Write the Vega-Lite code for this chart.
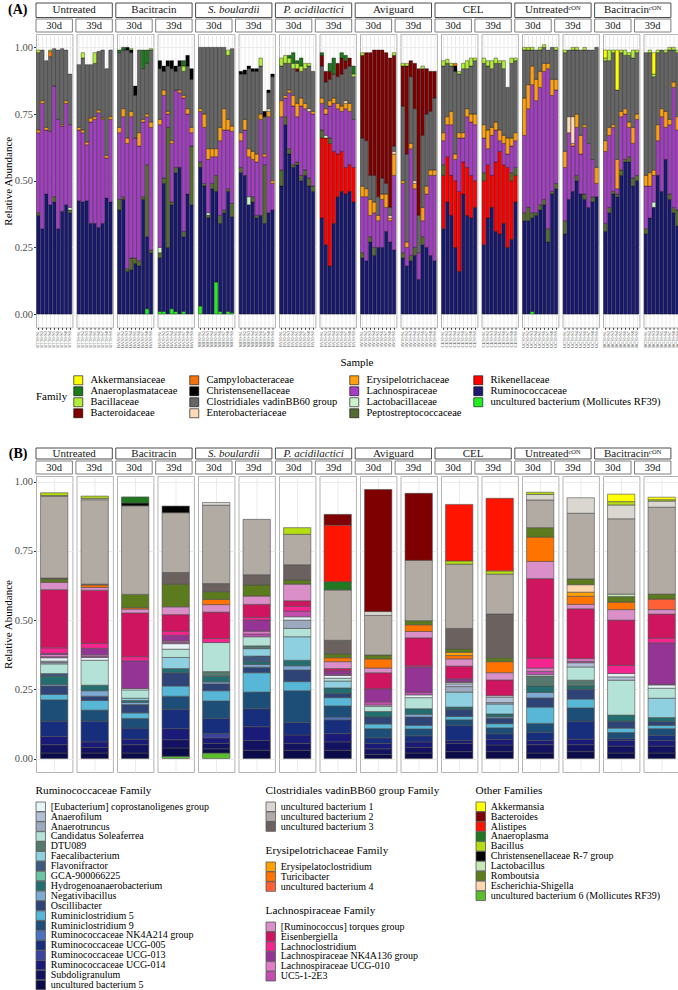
{
"$schema": "https://vega.github.io/schema/vega-lite/v6.json",
"padding": {"left": 2, "top": 2, "right": 2, "bottom": 2},
"background": "white",
"config": {
  "font": "Liberation Serif",
  "view": {"stroke": null},
  "axis": {"labelFont": "Liberation Serif", "titleFont": "Liberation Serif", "titleFontWeight": "normal"},
  "legend": {"labelFont": "Liberation Serif", "titleFont": "Liberation Serif"},
  "text": {"font": "Liberation Serif"},
  "title": {"font": "Liberation Serif"},
  "header": {"labelFont": "Liberation Serif", "titleFont": "Liberation Serif"}
},
"datasets": {
  "fam": [
    {"k":"f01","Family":"uncultured bacterium (Mollicutes RF39)"},{"k":"f02","Family":"Ruminococcaceae"},{"k":"f03","Family":"Rikenellaceae"},{"k":"f04","Family":"Peptostreptococcaceae"},{"k":"f05","Family":"Lactobacillaceae"},{"k":"f06","Family":"Lachnospiraceae"},{"k":"f07","Family":"Erysipelotrichaceae"},{"k":"f08","Family":"Enterobacteriaceae"},{"k":"f09","Family":"Clostridiales vadinBB60 group"},{"k":"f10","Family":"Christensenellaceae"},{"k":"f11","Family":"Campylobacteraceae"},{"k":"f12","Family":"Bacteroidaceae"},{"k":"f13","Family":"Bacillaceae"},{"k":"f14","Family":"Anaeroplasmataceae"},{"k":"f15","Family":"Akkermansiaceae"}
  ],
  "trts": [{"t":"Untreated"},{"t":"Bacitracin"},{"t":"S. boulardii"},{"t":"P. acidilactici"},{"t":"Aviguard"},{"t":"CEL"},{"t":"Untreatedᶜᴼᴺ"},{"t":"Bacitracinᶜᴼᴺ"}],
  "days": [
    {"g":"UT30","d":"30d"},{"g":"UT39","d":"39d"},{"g":"BA30","d":"30d"},{"g":"BA39","d":"39d"},{"g":"SB30","d":"30d"},{"g":"SB39","d":"39d"},{"g":"PA30","d":"30d"},{"g":"PA39","d":"39d"},
    {"g":"AV30","d":"30d"},{"g":"AV39","d":"39d"},{"g":"CE30","d":"30d"},{"g":"CE39","d":"39d"},{"g":"UC30","d":"30d"},{"g":"UC39","d":"39d"},{"g":"BC30","d":"30d"},{"g":"BC39","d":"39d"}
  ],
  "gen": [
    {"k":"a20","genus":"[Eubacterium] coprostanoligenes group","grp":"Ruminococcaceae Family"},
    {"k":"a19","genus":"Anaerofilum","grp":"Ruminococcaceae Family"},
    {"k":"a18","genus":"Anaerotruncus","grp":"Ruminococcaceae Family"},
    {"k":"a17","genus":"Candidatus Soleaferrea","grp":"Ruminococcaceae Family"},
    {"k":"a16","genus":"DTU089","grp":"Ruminococcaceae Family"},
    {"k":"a15","genus":"Faecalibacterium","grp":"Ruminococcaceae Family"},
    {"k":"a14","genus":"Flavonifractor","grp":"Ruminococcaceae Family"},
    {"k":"a13","genus":"GCA-900066225","grp":"Ruminococcaceae Family"},
    {"k":"a12","genus":"Hydrogenoanaerobacterium","grp":"Ruminococcaceae Family"},
    {"k":"a11","genus":"Negativibacillus","grp":"Ruminococcaceae Family"},
    {"k":"a10","genus":"Oscillibacter","grp":"Ruminococcaceae Family"},
    {"k":"a09","genus":"Ruminiclostridium 5","grp":"Ruminococcaceae Family"},
    {"k":"a08","genus":"Ruminiclostridium 9","grp":"Ruminococcaceae Family"},
    {"k":"a07","genus":"Ruminococcaceae NK4A214 group","grp":"Ruminococcaceae Family"},
    {"k":"a06","genus":"Ruminococcaceae UCG-005","grp":"Ruminococcaceae Family"},
    {"k":"a05","genus":"Ruminococcaceae UCG-013","grp":"Ruminococcaceae Family"},
    {"k":"a04","genus":"Ruminococcaceae UCG-014","grp":"Ruminococcaceae Family"},
    {"k":"a03","genus":"Subdoligranulum","grp":"Ruminococcaceae Family"},
    {"k":"a02","genus":"uncultured bacterium 5","grp":"Ruminococcaceae Family"},
    {"k":"a35","genus":"uncultured bacterium 1","grp":"Clostridiales vadinBB60 group Family"},
    {"k":"a34","genus":"uncultured bacterium 2","grp":"Clostridiales vadinBB60 group Family"},
    {"k":"a33","genus":"uncultured bacterium 3","grp":"Clostridiales vadinBB60 group Family"},
    {"k":"a29","genus":"Erysipelatoclostridium","grp":"Erysipelotrichaceae Family"},
    {"k":"a28","genus":"Turicibacter","grp":"Erysipelotrichaceae Family"},
    {"k":"a27","genus":"uncultured bacterium 4","grp":"Erysipelotrichaceae Family"},
    {"k":"a26","genus":"[Ruminococcus] torques group","grp":"Lachnospiraceae Family"},
    {"k":"a25","genus":"Eisenbergiella","grp":"Lachnospiraceae Family"},
    {"k":"a24","genus":"Lachnoclostridium","grp":"Lachnospiraceae Family"},
    {"k":"a23","genus":"Lachnospiraceae NK4A136 group","grp":"Lachnospiraceae Family"},
    {"k":"a22","genus":"Lachnospiraceae UCG-010","grp":"Lachnospiraceae Family"},
    {"k":"a21","genus":"UC5-1-2E3","grp":"Lachnospiraceae Family"},
    {"k":"a41","genus":"Akkermansia","grp":"Other Families"},
    {"k":"a40","genus":"Bacteroides","grp":"Other Families"},
    {"k":"a39","genus":"Alistipes","grp":"Other Families"},
    {"k":"a38","genus":"Anaeroplasma","grp":"Other Families"},
    {"k":"a37","genus":"Bacillus","grp":"Other Families"},
    {"k":"a36","genus":"Christensenellaceae R-7 group","grp":"Other Families"},
    {"k":"a32","genus":"Lactobacillus","grp":"Other Families"},
    {"k":"a31","genus":"Romboutsia","grp":"Other Families"},
    {"k":"a30","genus":"Escherichia-Shigella","grp":"Other Families"},
    {"k":"a01","genus":"uncultured bacterium 6 (Mollicutes RF39)","grp":"Other Families"}
  ],
  "B": [
    {"g":"UT30","a02":0.02,"a03":0.03,"a04":0.03,"a06":0.055,"a08":0.077,"a09":0.02,"a10":0.03,"a11":0.005,"a12":0.03,"a14":0.01,"a17":0.035,"a18":0.005,"a19":0.005,"a20":0.012,"a21":0.004,"a22":0.008,"a23":0.004,"a24":0.02,"a25":0.21,"a26":0.026,"a29":0.003,"a31":0.01,"a33":0.003,"a34":0.295,"a35":0.003,"a37":0.01},
    {"g":"UT39","a02":0.02,"a03":0.02,"a04":0.02,"a06":0.075,"a08":0.04,"a09":0.035,"a10":0.015,"a11":0.02,"a12":0.02,"a17":0.09,"a20":0.01,"a21":0.005,"a22":0.005,"a23":0.023,"a24":0.018,"a25":0.192,"a26":0.01,"a28":0.009,"a33":0.003,"a34":0.305,"a35":0.005,"a37":0.008},
    {"g":"BA30","a02":0.02,"a03":0.03,"a04":0.02,"a06":0.04,"a08":0.035,"a09":0.02,"a10":0.03,"a11":0.008,"a12":0.007,"a15":0.008,"a17":0.03,"a20":0.005,"a23":0.1,"a24":0.015,"a25":0.158,"a26":0.014,"a28":0.005,"a31":0.048,"a34":0.32,"a36":0.01,"a38":0.022},
    {"g":"BA39","a01":0.008,"a02":0.03,"a03":0.03,"a04":0.04,"a06":0.07,"a08":0.047,"a09":0.037,"a10":0.048,"a12":0.015,"a15":0.04,"a17":0.03,"a20":0.02,"a21":0.005,"a22":0.005,"a23":0.02,"a24":0.015,"a25":0.06,"a26":0.028,"a31":0.082,"a33":0.042,"a34":0.216,"a36":0.024},
    {"g":"SB30","a01":0.02,"a02":0.015,"a03":0.02,"a04":0.02,"a05":0.015,"a06":0.055,"a08":0.063,"a09":0.037,"a10":0.025,"a11":0.007,"a12":0.02,"a16":0.017,"a17":0.105,"a24":0.015,"a25":0.095,"a26":0.027,"a28":0.019,"a31":0.028,"a33":0.029,"a34":0.283,"a35":0.01},
    {"g":"SB39","a02":0.03,"a03":0.035,"a04":0.05,"a06":0.065,"a08":0.06,"a09":0.07,"a10":0.02,"a11":0.01,"a12":0.01,"a14":0.02,"a15":0.027,"a16":0.01,"a17":0.033,"a21":0.01,"a22":0.01,"a23":0.04,"a24":0.01,"a25":0.047,"a26":0.03,"a31":0.04,"a33":0.037,"a34":0.2},
    {"g":"PA30","a02":0.03,"a03":0.025,"a04":0.03,"a06":0.045,"a08":0.115,"a09":0.033,"a10":0.042,"a11":0.015,"a12":0.02,"a15":0.085,"a17":0.03,"a18":0.03,"a20":0.012,"a21":0.02,"a24":0.018,"a25":0.02,"a26":0.06,"a31":0.015,"a33":0.055,"a34":0.11,"a37":0.024},
    {"g":"PA39","a02":0.03,"a03":0.03,"a04":0.03,"a06":0.05,"a07":0.01,"a08":0.04,"a09":0.03,"a10":0.015,"a12":0.02,"a15":0.025,"a17":0.01,"a20":0.01,"a21":0.005,"a23":0.012,"a25":0.008,"a26":0.025,"a28":0.014,"a31":0.014,"a33":0.049,"a34":0.182,"a38":0.03,"a39":0.204,"a40":0.039},
    {"g":"AV30","a02":0.015,"a03":0.02,"a04":0.02,"a06":0.02,"a08":0.033,"a09":0.017,"a10":0.025,"a12":0.02,"a17":0.018,"a20":0.005,"a21":0.012,"a23":0.047,"a25":0.058,"a26":0.017,"a28":0.033,"a31":0.014,"a34":0.143,"a35":0.014,"a40":0.441},
    {"g":"AV39","a02":0.02,"a03":0.02,"a04":0.02,"a06":0.022,"a08":0.025,"a09":0.013,"a10":0.03,"a11":0.01,"a12":0.02,"a17":0.04,"a20":0.01,"a21":0.01,"a23":0.09,"a24":0.005,"a25":0.101,"a26":0.023,"a28":0.024,"a31":0.015,"a34":0.218,"a40":0.242},
    {"g":"CE30","a02":0.025,"a03":0.03,"a04":0.01,"a06":0.055,"a08":0.02,"a09":0.012,"a10":0.026,"a12":0.008,"a15":0.054,"a18":0.02,"a19":0.01,"a20":0.005,"a21":0.003,"a23":0.01,"a25":0.046,"a26":0.026,"a28":0.012,"a29":0.012,"a31":0.012,"a33":0.074,"a34":0.232,"a37":0.012,"a39":0.204},
    {"g":"CE39","a02":0.025,"a03":0.024,"a04":0.02,"a06":0.02,"a08":0.022,"a09":0.015,"a10":0.02,"a11":0.005,"a12":0.01,"a15":0.036,"a18":0.005,"a19":0.02,"a20":0.005,"a25":0.057,"a26":0.026,"a28":0.04,"a31":0.014,"a33":0.158,"a34":0.144,"a37":0.012,"a39":0.262},
    {"g":"UC30","a02":0.02,"a03":0.03,"a04":0.015,"a06":0.03,"a08":0.032,"a09":0.059,"a10":0.033,"a11":0.02,"a12":0.023,"a16":0.036,"a20":0.005,"a21":0.012,"a22":0.012,"a24":0.036,"a25":0.287,"a26":0.062,"a28":0.088,"a31":0.034,"a34":0.1,"a35":0.02,"a37":0.008},
    {"g":"UC39","a02":0.025,"a03":0.025,"a04":0.02,"a06":0.065,"a08":0.048,"a09":0.032,"a10":0.035,"a12":0.012,"a16":0.021,"a17":0.048,"a19":0.015,"a21":0.005,"a22":0.01,"a25":0.18,"a26":0.016,"a28":0.029,"a29":0.015,"a30":0.027,"a31":0.021,"a34":0.237,"a35":0.056},
    {"g":"BC30","a02":0.02,"a03":0.025,"a04":0.02,"a06":0.007,"a08":0.022,"a09":0.016,"a10":0.025,"a12":0.022,"a17":0.126,"a19":0.012,"a20":0.012,"a24":0.03,"a25":0.163,"a26":0.038,"a28":0.027,"a31":0.02,"a32":0.009,"a34":0.272,"a35":0.05,"a37":0.012,"a41":0.027},
    {"g":"BC39","a02":0.02,"a03":0.025,"a04":0.02,"a06":0.019,"a08":0.024,"a09":0.012,"a10":0.014,"a12":0.014,"a15":0.07,"a17":0.036,"a20":0.012,"a21":0.002,"a23":0.15,"a24":0.017,"a25":0.087,"a26":0.016,"a27":0.038,"a31":0.018,"a34":0.314,"a35":0.022,"a37":0.005,"a41":0.009}
  ],
  "A": [
    {"g":"UT30","s":"UT30-S1","f02":0.37,"f04":0.01,"f06":0.3,"f07":0.01,"f09":0.29,"f13":0.01},
    {"g":"UT30","s":"UT30-S2","f02":0.32,"f06":0.47,"f07":0.01,"f09":0.19},
    {"g":"UT30","s":"UT30-S3","f02":0.45,"f06":0.24,"f07":0.01,"f09":0.25},
    {"g":"UT30","s":"UT30-S4","f02":0.41,"f06":0.275,"f09":0.28,"f11":0.02,"f13":0.005},
    {"g":"UT30","s":"UT30-S5","f02":0.42,"f04":0.02,"f06":0.415,"f09":0.14},
    {"g":"UT30","s":"UT30-S6","f02":0.32,"f06":0.41,"f09":0.26},
    {"g":"UT30","s":"UT30-S7","f02":0.385,"f06":0.32,"f07":0.005,"f09":0.285},
    {"g":"UT30","s":"UT30-S8","f02":0.41,"f06":0.38,"f07":0.01,"f09":0.19},
    {"g":"UT30","s":"UT30-S9","f02":0.38,"f04":0.01,"f05":0.01,"f06":0.31,"f09":0.19},
    {"g":"UT39","s":"UT39-S1","f02":0.425,"f06":0.265,"f07":0.01,"f09":0.235},
    {"g":"UT39","s":"UT39-S2","f02":0.42,"f06":0.26,"f07":0.01,"f09":0.27,"f13":0.02},
    {"g":"UT39","s":"UT39-S3","f02":0.425,"f06":0.21,"f07":0.01,"f09":0.29},
    {"g":"UT39","s":"UT39-S4","f02":0.34,"f06":0.38,"f07":0.015,"f09":0.2},
    {"g":"UT39","s":"UT39-S5","f02":0.34,"f06":0.39,"f07":0.01,"f09":0.2,"f13":0.04},
    {"g":"UT39","s":"UT39-S6","f02":0.325,"f06":0.43,"f07":0.01,"f09":0.22},
    {"g":"UT39","s":"UT39-S7","f02":0.34,"f06":0.39,"f07":0.005,"f09":0.255},
    {"g":"UT39","s":"UT39-S8","f02":0.435,"f06":0.15,"f07":0.01,"f09":0.325},
    {"g":"UT39","s":"UT39-S9","f02":0.42,"f06":0.31,"f07":0.01,"f09":0.25},
    {"g":"BA30","s":"BA30-S1","f02":0.39,"f04":0.04,"f06":0.25,"f07":0.02,"f09":0.28,"f14":0.01},
    {"g":"BA30","s":"BA30-S2","f02":0.43,"f04":0.01,"f06":0.3,"f07":0.03,"f09":0.22,"f14":0.01},
    {"g":"BA30","s":"BA30-S3","f02":0.16,"f04":0.01,"f06":0.47,"f07":0.02,"f09":0.33,"f10":0.01},
    {"g":"BA30","s":"BA30-S4","f02":0.165,"f04":0.045,"f06":0.53,"f07":0.02,"f09":0.22,"f10":0.01,"f13":0.005},
    {"g":"BA30","s":"BA30-S5","f02":0.19,"f04":0.02,"f06":0.45,"f09":0.16,"f10":0.035},
    {"g":"BA30","s":"BA30-S6","f02":0.18,"f04":0.02,"f06":0.43,"f07":0.05,"f09":0.31},
    {"g":"BA30","s":"BA30-S7","f02":0.43,"f04":0.01,"f06":0.28,"f07":0.01,"f09":0.19,"f14":0.07},
    {"g":"BA30","s":"BA30-S8","f01":0.02,"f02":0.27,"f04":0.27,"f06":0.18,"f07":0.01,"f09":0.19,"f14":0.05},
    {"g":"BA30","s":"BA30-S9","f02":0.23,"f04":0.01,"f06":0.46,"f07":0.02,"f09":0.27,"f13":0.005},
    {"g":"BA39","s":"BA39-S1","f01":0.01,"f02":0.2,"f04":0.02,"f05":0.02,"f06":0.46,"f07":0.02,"f09":0.19,"f10":0.03},
    {"g":"BA39","s":"BA39-S2","f01":0.01,"f02":0.48,"f04":0.02,"f06":0.31,"f07":0.02,"f09":0.07,"f10":0.02},
    {"g":"BA39","s":"BA39-S3","f02":0.25,"f04":0.45,"f06":0.05,"f07":0.01,"f09":0.17,"f10":0.02},
    {"g":"BA39","s":"BA39-S4","f01":0.02,"f02":0.39,"f04":0.01,"f06":0.22,"f07":0.01,"f09":0.27,"f10":0.03},
    {"g":"BA39","s":"BA39-S5","f01":0.01,"f02":0.52,"f04":0.02,"f06":0.29,"f09":0.07,"f10":0.02},
    {"g":"BA39","s":"BA39-S6","f02":0.55,"f06":0.28,"f07":0.01,"f09":0.09,"f10":0.02},
    {"g":"BA39","s":"BA39-S7","f01":0.01,"f02":0.28,"f04":0.02,"f06":0.5,"f07":0.01,"f09":0.09,"f13":0.02,"f14":0.02},
    {"g":"BA39","s":"BA39-S8","f02":0.45,"f06":0.3,"f07":0.02,"f09":0.16,"f10":0.04},
    {"g":"BA39","s":"BA39-S9","f02":0.41,"f04":0.22,"f06":0.05,"f07":0.02,"f09":0.18,"f10":0.04},
    {"g":"SB30","s":"SB30-S1","f01":0.03,"f02":0.52,"f04":0.02,"f06":0.19,"f07":0.01,"f09":0.23},
    {"g":"SB30","s":"SB30-S2","f02":0.48,"f04":0.01,"f06":0.21,"f07":0.05,"f09":0.25},
    {"g":"SB30","s":"SB30-S3","f02":0.36,"f04":0.01,"f05":0.01,"f06":0.2,"f07":0.04,"f09":0.38},
    {"g":"SB30","s":"SB30-S4","f02":0.47,"f04":0.02,"f06":0.1,"f07":0.03,"f09":0.38},
    {"g":"SB30","s":"SB30-S5","f01":0.12,"f02":0.34,"f04":0.06,"f06":0.07,"f07":0.03,"f09":0.38},
    {"g":"SB30","s":"SB30-S6","f01":0.01,"f02":0.33,"f04":0.03,"f06":0.28,"f07":0.05,"f09":0.3},
    {"g":"SB30","s":"SB30-S7","f02":0.38,"f04":0.01,"f06":0.3,"f07":0.08,"f09":0.23},
    {"g":"SB30","s":"SB30-S8","f01":0.01,"f02":0.45,"f04":0.01,"f06":0.22,"f07":0.04,"f09":0.24,"f13":0.02},
    {"g":"SB30","s":"SB30-S9","f01":0.005,"f02":0.36,"f04":0.05,"f06":0.27,"f07":0.02,"f09":0.29},
    {"g":"SB39","s":"SB39-S1","f02":0.53,"f04":0.02,"f06":0.1,"f07":0.03,"f09":0.22,"f10":0.01},
    {"g":"SB39","s":"SB39-S2","f02":0.52,"f06":0.17,"f07":0.04,"f09":0.17,"f10":0.015},
    {"g":"SB39","s":"SB39-S3","f02":0.41,"f05":0.03,"f06":0.15,"f07":0.03,"f09":0.3,"f10":0.01},
    {"g":"SB39","s":"SB39-S4","f02":0.42,"f04":0.02,"f06":0.14,"f07":0.03,"f09":0.3,"f10":0.01},
    {"g":"SB39","s":"SB39-S5","f02":0.36,"f04":0.01,"f06":0.2,"f07":0.03,"f09":0.31,"f10":0.01},
    {"g":"SB39","s":"SB39-S6","f02":0.37,"f06":0.36,"f07":0.02,"f09":0.18,"f13":0.03},
    {"g":"SB39","s":"SB39-S7","f02":0.34,"f04":0.22,"f06":0.03,"f07":0.01,"f09":0.14,"f10":0.02},
    {"g":"SB39","s":"SB39-S8","f02":0.38,"f06":0.36,"f07":0.02,"f08":0.01,"f09":0.06,"f10":0.01},
    {"g":"SB39","s":"SB39-S9","f02":0.39,"f06":0.1,"f07":0.01,"f09":0.39,"f10":0.01},
    {"g":"PA30","s":"PA30-S1","f02":0.48,"f04":0.06,"f06":0.2,"f07":0.06,"f09":0.13,"f13":0.03},
    {"g":"PA30","s":"PA30-S2","f02":0.71,"f04":0.03,"f06":0.07,"f07":0.01,"f09":0.12,"f13":0.03},
    {"g":"PA30","s":"PA30-S3","f02":0.6,"f04":0.02,"f06":0.21,"f07":0.01,"f09":0.1,"f13":0.02,"f14":0.01},
    {"g":"PA30","s":"PA30-S4","f02":0.55,"f04":0.01,"f06":0.22,"f07":0.04,"f09":0.1,"f13":0.02,"f14":0.04},
    {"g":"PA30","s":"PA30-S5","f02":0.56,"f04":0.01,"f06":0.17,"f07":0.05,"f09":0.12,"f12":0.01,"f13":0.02,"f14":0.01},
    {"g":"PA30","s":"PA30-S6","f02":0.5,"f04":0.02,"f06":0.26,"f07":0.03,"f09":0.1,"f13":0.02,"f14":0.03},
    {"g":"PA30","s":"PA30-S7","f02":0.52,"f04":0.02,"f06":0.23,"f07":0.02,"f09":0.13,"f13":0.02},
    {"g":"PA30","s":"PA30-S8","f02":0.48,"f04":0.03,"f06":0.25,"f08":0.01,"f09":0.16,"f13":0.01},
    {"g":"PA30","s":"PA30-S9","f02":0.46,"f04":0.02,"f06":0.27,"f07":0.01,"f09":0.15},
    {"g":"PA39","s":"PA39-S1","f02":0.36,"f03":0.3,"f04":0.03,"f06":0.1,"f07":0.02,"f09":0.12,"f12":0.04,"f14":0.01},
    {"g":"PA39","s":"PA39-S2","f02":0.26,"f03":0.4,"f05":0.01,"f06":0.08,"f07":0.02,"f09":0.1,"f12":0.04},
    {"g":"PA39","s":"PA39-S3","f02":0.18,"f03":0.46,"f04":0.02,"f06":0.12,"f07":0.02,"f09":0.08,"f12":0.03,"f14":0.03},
    {"g":"PA39","s":"PA39-S4","f02":0.34,"f03":0.27,"f06":0.18,"f07":0.02,"f09":0.09,"f14":0.06},
    {"g":"PA39","s":"PA39-S5","f02":0.44,"f03":0.16,"f06":0.17,"f07":0.02,"f09":0.1,"f12":0.05},
    {"g":"PA39","s":"PA39-S6","f02":0.46,"f03":0.15,"f06":0.15,"f07":0.02,"f09":0.12,"f12":0.06,"f14":0.02},
    {"g":"PA39","s":"PA39-S7","f02":0.45,"f03":0.1,"f06":0.22,"f07":0.02,"f08":0.01,"f09":0.12,"f12":0.03,"f14":0.02},
    {"g":"PA39","s":"PA39-S8","f02":0.46,"f03":0.1,"f06":0.2,"f07":0.03,"f09":0.14,"f12":0.03},
    {"g":"PA39","s":"PA39-S9","f02":0.42,"f03":0.13,"f06":0.18,"f09":0.16,"f13":0.01,"f14":0.03},
    {"g":"AV30","s":"AV30-S1","f02":0.21,"f04":0.02,"f06":0.21,"f07":0.04,"f09":0.18,"f12":0.31,"f13":0.01},
    {"g":"AV30","s":"AV30-S2","f02":0.2,"f06":0.24,"f07":0.03,"f09":0.18,"f12":0.33},
    {"g":"AV30","s":"AV30-S3","f02":0.27,"f04":0.02,"f06":0.08,"f07":0.06,"f09":0.09,"f12":0.46},
    {"g":"AV30","s":"AV30-S4","f02":0.22,"f04":0.03,"f06":0.13,"f07":0.04,"f09":0.1,"f12":0.47},
    {"g":"AV30","s":"AV30-S5","f02":0.25,"f06":0.1,"f07":0.02,"f09":0.07,"f12":0.55},
    {"g":"AV30","s":"AV30-S6","f02":0.25,"f06":0.18,"f07":0.02,"f09":0.06,"f12":0.48},
    {"g":"AV30","s":"AV30-S7","f02":0.31,"f06":0.09,"f07":0.05,"f09":0.04,"f12":0.49},
    {"g":"AV30","s":"AV30-S8","f02":0.27,"f06":0.08,"f07":0.01,"f08":0.01,"f09":0.03,"f12":0.56},
    {"g":"AV30","s":"AV30-S9","f02":0.24,"f06":0.28,"f07":0.08,"f08":0.01,"f09":0.02,"f12":0.34,"f13":0.01},
    {"g":"AV39","s":"AV39-S1","f02":0.21,"f04":0.02,"f06":0.26,"f07":0.01,"f09":0.28,"f12":0.15,"f13":0.01},
    {"g":"AV39","s":"AV39-S2","f02":0.18,"f06":0.07,"f07":0.02,"f09":0.33,"f12":0.33,"f13":0.01},
    {"g":"AV39","s":"AV39-S3","f02":0.2,"f04":0.02,"f06":0.4,"f07":0.02,"f09":0.25,"f12":0.06},
    {"g":"AV39","s":"AV39-S4","f02":0.22,"f04":0.03,"f06":0.22,"f07":0.02,"f08":0.01,"f09":0.27,"f12":0.17},
    {"g":"AV39","s":"AV39-S5","f02":0.13,"f06":0.1,"f09":0.14,"f12":0.55},
    {"g":"AV39","s":"AV39-S6","f02":0.26,"f04":0.03,"f06":0.06,"f07":0.05,"f09":0.27,"f12":0.25,"f13":0.01},
    {"g":"AV39","s":"AV39-S7","f02":0.25,"f06":0.2,"f07":0.03,"f09":0.27,"f12":0.17},
    {"g":"AV39","s":"AV39-S8","f02":0.22,"f06":0.3,"f07":0.02,"f09":0.22,"f12":0.15},
    {"g":"AV39","s":"AV39-S9","f02":0.2,"f06":0.32,"f07":0.02,"f09":0.27,"f12":0.1},
    {"g":"CE30","s":"CE30-S1","f02":0.32,"f03":0.2,"f04":0.04,"f06":0.09,"f07":0.03,"f09":0.25,"f13":0.02},
    {"g":"CE30","s":"CE30-S2","f02":0.42,"f03":0.17,"f06":0.12,"f07":0.03,"f09":0.2,"f13":0.015},
    {"g":"CE30","s":"CE30-S3","f02":0.37,"f03":0.15,"f06":0.19,"f07":0.05,"f09":0.17,"f13":0.01},
    {"g":"CE30","s":"CE30-S4","f02":0.25,"f03":0.25,"f06":0.08,"f07":0.02,"f09":0.31,"f10":0.02,"f11":0.01},
    {"g":"CE30","s":"CE30-S5","f02":0.16,"f03":0.3,"f06":0.2,"f07":0.02,"f09":0.22,"f13":0.01},
    {"g":"CE30","s":"CE30-S6","f02":0.45,"f03":0.12,"f06":0.09,"f07":0.02,"f09":0.24,"f13":0.02},
    {"g":"CE30","s":"CE30-S7","f02":0.37,"f03":0.18,"f06":0.19,"f07":0.03,"f09":0.15,"f13":0.03},
    {"g":"CE30","s":"CE30-S8","f02":0.36,"f03":0.16,"f06":0.2,"f07":0.03,"f09":0.18,"f13":0.03},
    {"g":"CE30","s":"CE30-S9","f02":0.4,"f03":0.1,"f06":0.21,"f07":0.04,"f09":0.2,"f13":0.01},
    {"g":"CE39","s":"CE39-S1","f02":0.26,"f03":0.24,"f04":0.03,"f06":0.13,"f07":0.05,"f09":0.23,"f13":0.02},
    {"g":"CE39","s":"CE39-S2","f02":0.36,"f03":0.2,"f06":0.06,"f07":0.07,"f09":0.24,"f13":0.02},
    {"g":"CE39","s":"CE39-S3","f02":0.4,"f03":0.12,"f06":0.15,"f07":0.03,"f09":0.22,"f13":0.03},
    {"g":"CE39","s":"CE39-S4","f02":0.31,"f03":0.26,"f06":0.12,"f07":0.03,"f09":0.22,"f13":0.02},
    {"g":"CE39","s":"CE39-S5","f02":0.3,"f03":0.31,"f06":0.04,"f07":0.04,"f09":0.25,"f13":0.01},
    {"g":"CE39","s":"CE39-S6","f02":0.34,"f03":0.22,"f06":0.08,"f07":0.03,"f09":0.25,"f13":0.03},
    {"g":"CE39","s":"CE39-S7","f02":0.25,"f03":0.3,"f06":0.05,"f07":0.06,"f09":0.19},
    {"g":"CE39","s":"CE39-S8","f02":0.28,"f03":0.22,"f04":0.03,"f06":0.1,"f07":0.03,"f09":0.28,"f13":0.02},
    {"g":"CE39","s":"CE39-S9","f02":0.42,"f03":0.1,"f04":0.03,"f06":0.1,"f07":0.03,"f09":0.27,"f13":0.01},
    {"g":"UC30","s":"UC30-S1","f02":0.35,"f04":0.03,"f06":0.29,"f07":0.14,"f09":0.18,"f13":0.01},
    {"g":"UC30","s":"UC30-S2","f02":0.35,"f04":0.05,"f06":0.37,"f07":0.09,"f09":0.13,"f13":0.01},
    {"g":"UC30","s":"UC30-S3","f01":0.01,"f02":0.35,"f04":0.02,"f06":0.48,"f07":0.07,"f09":0.06,"f13":0.01},
    {"g":"UC30","s":"UC30-S4","f02":0.37,"f04":0.01,"f06":0.42,"f07":0.08,"f09":0.11},
    {"g":"UC30","s":"UC30-S5","f02":0.39,"f04":0.02,"f06":0.44,"f07":0.06,"f09":0.08,"f13":0.01},
    {"g":"UC30","s":"UC30-S6","f02":0.41,"f04":0.02,"f06":0.48,"f07":0.03,"f09":0.06,"f13":0.01},
    {"g":"UC30","s":"UC30-S7","f02":0.27,"f04":0.05,"f06":0.6,"f07":0.02,"f09":0.05},
    {"g":"UC30","s":"UC30-S8","f02":0.45,"f04":0.01,"f06":0.36,"f07":0.06,"f09":0.12},
    {"g":"UC30","s":"UC30-S9","f02":0.47,"f04":0.02,"f06":0.35,"f07":0.04,"f09":0.11,"f13":0.01},
    {"g":"UC39","s":"UC39-S1","f02":0.3,"f04":0.05,"f06":0.2,"f07":0.06,"f09":0.37,"f13":0.01},
    {"g":"UC39","s":"UC39-S2","f02":0.43,"f06":0.25,"f08":0.06,"f09":0.25},
    {"g":"UC39","s":"UC39-S3","f02":0.46,"f06":0.17,"f07":0.01,"f08":0.1,"f09":0.25,"f13":0.01},
    {"g":"UC39","s":"UC39-S4","f02":0.5,"f04":0.02,"f06":0.18,"f07":0.05,"f09":0.24,"f13":0.01},
    {"g":"UC39","s":"UC39-S5","f02":0.45,"f06":0.15,"f07":0.07,"f09":0.32},
    {"g":"UC39","s":"UC39-S6","f02":0.43,"f04":0.02,"f06":0.25,"f07":0.01,"f09":0.28,"f13":0.01},
    {"g":"UC39","s":"UC39-S7","f02":0.4,"f06":0.24,"f09":0.35},
    {"g":"UC39","s":"UC39-S8","f02":0.42,"f04":0.02,"f06":0.14,"f09":0.41},
    {"g":"UC39","s":"UC39-S9","f02":0.44,"f06":0.05,"f07":0.06,"f09":0.45},
    {"g":"BC30","s":"BC30-S1","f02":0.31,"f04":0.03,"f06":0.27,"f07":0.04,"f09":0.3,"f13":0.01,"f15":0.03},
    {"g":"BC30","s":"BC30-S2","f02":0.38,"f04":0.02,"f06":0.27,"f07":0.03,"f09":0.25,"f13":0.04},
    {"g":"BC30","s":"BC30-S3","f02":0.45,"f04":0.01,"f06":0.24,"f07":0.01,"f09":0.27,"f13":0.01},
    {"g":"BC30","s":"BC30-S4","f02":0.44,"f04":0.01,"f06":0.02,"f07":0.11,"f09":0.26,"f15":0.15},
    {"g":"BC30","s":"BC30-S5","f02":0.52,"f04":0.02,"f06":0.2,"f07":0.02,"f09":0.22,"f13":0.01},
    {"g":"BC30","s":"BC30-S6","f02":0.57,"f04":0.01,"f06":0.17,"f07":0.02,"f09":0.2,"f13":0.02},
    {"g":"BC30","s":"BC30-S7","f02":0.57,"f04":0.02,"f06":0.11,"f07":0.02,"f09":0.25,"f13":0.01},
    {"g":"BC30","s":"BC30-S8","f02":0.48,"f04":0.03,"f06":0.13,"f07":0.06,"f09":0.26,"f13":0.03},
    {"g":"BC30","s":"BC30-S9","f02":0.5,"f04":0.02,"f06":0.21,"f07":0.02,"f09":0.23,"f13":0.01},
    {"g":"BC39","s":"BC39-S1","f02":0.3,"f04":0.02,"f06":0.16,"f07":0.04,"f09":0.46},
    {"g":"BC39","s":"BC39-S2","f02":0.36,"f06":0.12,"f07":0.05,"f09":0.45,"f13":0.01},
    {"g":"BC39","s":"BC39-S3","f02":0.4,"f05":0.02,"f06":0.1,"f07":0.02,"f09":0.35,"f13":0.01,"f15":0.08},
    {"g":"BC39","s":"BC39-S4","f02":0.52,"f06":0.13,"f07":0.06,"f09":0.27,"f13":0.01},
    {"g":"BC39","s":"BC39-S5","f02":0.46,"f06":0.28,"f07":0.03,"f09":0.22},
    {"g":"BC39","s":"BC39-S6","f02":0.58,"f06":0.12,"f07":0.06,"f09":0.22,"f13":0.01},
    {"g":"BC39","s":"BC39-S7","f02":0.43,"f04":0.02,"f06":0.26,"f07":0.02,"f09":0.26,"f13":0.01},
    {"g":"BC39","s":"BC39-S8","f02":0.38,"f04":0.02,"f06":0.45,"f07":0.02,"f09":0.12,"f13":0.01},
    {"g":"BC39","s":"BC39-S9","f02":0.33,"f04":0.06,"f06":0.3,"f07":0.05,"f09":0.24,"f13":0.01}
  ]
},
"resolve": {"scale": {"color": "independent"}},
"spacing": 27,
"vconcat": [
  {
    "spacing": 0,
    "vconcat": [
      {
        "data": {"name": "trts"},
        "width": 634.9, "height": 14.5,
        "encoding": {
          "x": {"field": "t", "type": "nominal", "scale": {"domain": ["Untreated","Bacitracin","S. boulardii","P. acidilactici","Aviguard","CEL","Untreatedᶜᴼᴺ","Bacitracinᶜᴼᴺ"], "paddingInner": 0.04386, "paddingOuter": 0}, "axis": null},
          "y": {"datum": "(A)", "type": "nominal", "scale": {"paddingInner": 0, "paddingOuter": 0}, "axis": {"title": null, "domain": false, "ticks": false, "labelFontSize": 14, "labelFontWeight": "bold", "labelColor": "black", "labelPadding": 9}}
        },
        "layer": [
          {"mark": {"type": "rect", "fill": "white", "stroke": "#4D4D4D", "strokeWidth": 1}},
          {"transform": [{"filter": {"not": {"field": "t", "oneOf": ["S. boulardii","P. acidilactici"]}}}], "mark": {"type": "text", "fontSize": 11, "color": "#1A1A1A"}, "encoding": {"text": {"field": "t"}}},
          {"transform": [{"filter": {"field": "t", "oneOf": ["S. boulardii","P. acidilactici"]}}], "mark": {"type": "text", "fontSize": 11, "fontStyle": "italic", "color": "#1A1A1A"}, "encoding": {"text": {"field": "t"}}}
        ]
      },
      {
        "data": {"name": "days"},
        "width": 634.9, "height": 13,
        "encoding": {
          "x": {"field": "g", "type": "nominal", "scale": {"domain": ["UT30","UT39","BA30","BA39","SB30","SB39","PA30","PA39","AV30","AV39","CE30","CE39","UC30","UC39","BC30","BC39"], "paddingInner": 0.0877, "paddingOuter": 0}, "axis": null}
        },
        "layer": [
          {"mark": {"type": "rect", "fill": "white", "stroke": "#808080", "strokeWidth": 1}},
          {"mark": {"type": "text", "fontSize": 10.5, "color": "#1A1A1A"}, "encoding": {"text": {"field": "d"}}}
        ]
      },
      {
        "data": {"name": "A"},
        "transform": [
          {"fold": ["f01","f02","f03","f04","f05","f06","f07","f08","f09","f10","f11","f12","f13","f14","f15"], "as": ["key", "v"]},
          {"filter": "datum.v > 0"},
          {"lookup": "key", "from": {"data": {"name": "fam"}, "key": "k", "fields": ["Family"]}}
        ],
        "facet": {"column": {"field": "g", "sort": ["UT30","UT39","BA30","BA39","SB30","SB39","PA30","PA39","AV30","AV39","CE30","CE39","UC30","UC39","BC30","BC39"], "header": {"labels": false, "title": "Sample", "titleOrient": "bottom", "titleFontSize": 11, "titleFontWeight": "normal", "titleColor": "black", "titlePadding": 19}}},
        "spacing": {"column": 3.5},
        "bounds": "flush",
        "resolve": {"scale": {"x": "independent"}},
        "spec": {
          "width": 36.4, "height": 293.4,
          "view": {"stroke": "#B3B3B3"},
          "mark": {"type": "bar", "stroke": "black", "strokeWidth": 0.35},
          "encoding": {
            "x": {"field": "s", "type": "nominal", "sort": null, "scale": {"paddingInner": 0.1, "paddingOuter": 0.15}, "axis": {"title": null, "labelAngle": -90, "labelFontSize": 4.5, "labelColor": "#4D4D4D", "tickSize": 2, "tickColor": "#4D4D4D", "domain": false, "grid": true, "gridColor": "#EBEBEB", "labelPadding": 1}},
            "y": {"field": "v", "type": "quantitative", "stack": "zero", "scale": {"domain": [-0.05, 1.05], "nice": false, "zero": false}, "axis": {"title": "Relative Abundance", "values": [0, 0.25, 0.5, 0.75, 1], "format": ".2f", "labelFontSize": 10.5, "labelColor": "#4D4D4D", "titleFontSize": 11, "titleColor": "black", "tickSize": 2.5, "tickColor": "#333333", "domain": false, "grid": true, "gridColor": "#EBEBEB", "titlePadding": 1, "labelPadding": 1}},
            "color": {"field": "Family", "type": "nominal",
              "scale": {"domain": ["Akkermansiaceae","Campylobacteraceae","Erysipelotrichaceae","Rikenellaceae","Anaeroplasmataceae","Christensenellaceae","Lachnospiraceae","Ruminococcaceae","Bacillaceae","Clostridiales vadinBB60 group","Lactobacillaceae","uncultured bacterium (Mollicutes RF39)","Bacteroidaceae","Enterobacteriaceae","Peptostreptococcaceae"],
                        "range": ["#FFFF00","#F4730B","#FFA010","#FF0000","#1C7A1C","#000000","#A43FC4","#191970","#B3EE3A","#666666","#CCF2CC","#22EE22","#800000","#FFDAB9","#556B2F"]},
              "legend": {"title": "Family", "orient": "bottom", "direction": "horizontal", "columns": 4, "titleOrient": "left", "titleFontSize": 11, "titleFontWeight": "normal", "titleColor": "black", "labelFontSize": 10.5, "labelColor": "black", "labelLimit": 300, "symbolType": "square", "symbolSize": 81, "symbolStrokeColor": "black", "symbolStrokeWidth": 0.6, "rowPadding": -1.8, "columnPadding": 10, "labelOffset": 7, "offset": 7}},
            "order": {"field": "key", "sort": "ascending"}
          }
        }
      }
    ]
  },
  {
    "spacing": 12,
    "vconcat": [
      {
        "spacing": 0,
        "vconcat": [
          {
            "data": {"name": "trts"},
            "width": 634.9, "height": 11,
            "encoding": {
              "x": {"field": "t", "type": "nominal", "scale": {"domain": ["Untreated","Bacitracin","S. boulardii","P. acidilactici","Aviguard","CEL","Untreatedᶜᴼᴺ","Bacitracinᶜᴼᴺ"], "paddingInner": 0.04386, "paddingOuter": 0}, "axis": null},
              "y": {"datum": "(B)", "type": "nominal", "scale": {"paddingInner": 0, "paddingOuter": 0}, "axis": {"title": null, "domain": false, "ticks": false, "labelFontSize": 14, "labelFontWeight": "bold", "labelColor": "black", "labelPadding": 9}}
            },
            "layer": [
              {"mark": {"type": "rect", "fill": "white", "stroke": "#4D4D4D", "strokeWidth": 1}},
              {"transform": [{"filter": {"not": {"field": "t", "oneOf": ["S. boulardii","P. acidilactici"]}}}], "mark": {"type": "text", "fontSize": 11, "color": "#1A1A1A"}, "encoding": {"text": {"field": "t"}}},
              {"transform": [{"filter": {"field": "t", "oneOf": ["S. boulardii","P. acidilactici"]}}], "mark": {"type": "text", "fontSize": 11, "fontStyle": "italic", "color": "#1A1A1A"}, "encoding": {"text": {"field": "t"}}}
            ]
          },
          {
            "data": {"name": "days"},
            "width": 634.9, "height": 13,
            "encoding": {
              "x": {"field": "g", "type": "nominal", "scale": {"domain": ["UT30","UT39","BA30","BA39","SB30","SB39","PA30","PA39","AV30","AV39","CE30","CE39","UC30","UC39","BC30","BC39"], "paddingInner": 0.0877, "paddingOuter": 0}, "axis": null}
            },
            "layer": [
              {"mark": {"type": "rect", "fill": "white", "stroke": "#808080", "strokeWidth": 1}},
              {"mark": {"type": "text", "fontSize": 10.5, "color": "#1A1A1A"}, "encoding": {"text": {"field": "d"}}}
            ]
          },
          {
            "data": {"name": "B"},
            "transform": [
              {"fold": ["a01","a02","a03","a04","a05","a06","a07","a08","a09","a10","a11","a12","a13","a14","a15","a16","a17","a18","a19","a20","a21","a22","a23","a24","a25","a26","a27","a28","a29","a30","a31","a32","a33","a34","a35","a36","a37","a38","a39","a40","a41"], "as": ["key", "v"]},
              {"filter": "datum.v > 0"}
            ],
            "facet": {"column": {"field": "g", "sort": ["UT30","UT39","BA30","BA39","SB30","SB39","PA30","PA39","AV30","AV39","CE30","CE39","UC30","UC39","BC30","BC39"], "header": {"labels": false, "title": null}}},
            "spacing": {"column": 3.5},
            "bounds": "flush",
            "resolve": {"scale": {"x": "independent"}},
            "spec": {
              "width": 36.4, "height": 296,
              "view": {"stroke": "#B3B3B3"},
              "mark": {"type": "bar", "stroke": "#4D4D4D", "strokeWidth": 0.6},
              "encoding": {
                "x": {"field": "g", "type": "nominal", "scale": {"paddingInner": 0.1, "paddingOuter": 0.15}, "axis": {"title": null, "labels": false, "ticks": false, "domain": false, "grid": true, "gridColor": "#EBEBEB"}},
                "y": {"field": "v", "type": "quantitative", "stack": "zero", "scale": {"domain": [-0.0486, 1.0206], "nice": false, "zero": false}, "axis": {"title": "Relative Abundance", "values": [0, 0.25, 0.5, 0.75, 1], "format": ".2f", "labelFontSize": 10.5, "labelColor": "#4D4D4D", "titleFontSize": 11, "titleColor": "black", "tickSize": 2.5, "tickColor": "#333333", "domain": false, "grid": true, "gridColor": "#EBEBEB", "titlePadding": 1, "labelPadding": 1}},
                "color": {"field": "key", "type": "nominal", "legend": null,
                  "scale": {"domain": ["a01","a02","a03","a04","a05","a06","a07","a08","a09","a10","a11","a12","a13","a14","a15","a16","a17","a18","a19","a20","a21","a22","a23","a24","a25","a26","a27","a28","a29","a30","a31","a32","a33","a34","a35","a36","a37","a38","a39","a40","a41"],
                            "range": ["#5BBD2E","#0B0B4A","#121260","#1A1A78","#3C42A0","#172E7C","#4A72BE","#1C4E78","#58B6D6","#2E4476","#7DA9D3","#236E6E","#6CC4A4","#3E5A80","#8ED0E0","#56796F","#B5E2D7","#9DA9BF","#B3BFD6","#E7F4F7","#C24DAE","#E07BC6","#943596","#F5258F","#D01560","#DA8FC9","#FF6035","#FF7300","#FFA000","#FFD7AF","#5B7B1E","#C6E8B6","#6B625F","#B2ABA4","#DAD7D1","#000000","#B6DC14","#217821","#FF1400","#7F0000","#FFFF00"]}},
                "order": {"field": "key", "sort": "ascending"}
              }
            }
          }
        ]
      },
      {
        "spacing": 55,
        "hconcat": [
          {
            "data": {"name": "gen"},
            "transform": [{"filter": {"field": "grp", "equal": "Ruminococcaceae Family"}}],
            "title": {"text": "Ruminococcaceae Family", "anchor": "start", "fontSize": 11.2, "fontWeight": "normal", "color": "black", "offset": 5},
            "width": 9.5, "height": {"step": 9.9},
            "encoding": {"y": {"field": "genus", "type": "nominal", "sort": null, "axis": null, "scale": {"paddingInner": 0.04, "paddingOuter": 0}}},
            "layer": [
              {"mark": {"type": "rect", "stroke": "#595959", "strokeWidth": 0.8}, "encoding": {"color": {"field": "k", "type": "nominal", "legend": null, "scale": {"domain": ["a01","a02","a03","a04","a05","a06","a07","a08","a09","a10","a11","a12","a13","a14","a15","a16","a17","a18","a19","a20","a21","a22","a23","a24","a25","a26","a27","a28","a29","a30","a31","a32","a33","a34","a35","a36","a37","a38","a39","a40","a41"], "range": ["#5BBD2E","#0B0B4A","#121260","#1A1A78","#3C42A0","#172E7C","#4A72BE","#1C4E78","#58B6D6","#2E4476","#7DA9D3","#236E6E","#6CC4A4","#3E5A80","#8ED0E0","#56796F","#B5E2D7","#9DA9BF","#B3BFD6","#E7F4F7","#C24DAE","#E07BC6","#943596","#F5258F","#D01560","#DA8FC9","#FF6035","#FF7300","#FFA000","#FFD7AF","#5B7B1E","#C6E8B6","#6B625F","#B2ABA4","#DAD7D1","#000000","#B6DC14","#217821","#FF1400","#7F0000","#FFFF00"]}}}},
              {"mark": {"type": "text", "align": "left", "dx": 10, "fontSize": 10, "color": "black"}, "encoding": {"text": {"field": "genus"}}}
            ]
          },
          {
            "spacing": 35,
            "hconcat": [
              {
                "spacing": 13,
                "vconcat": [
                  {
                    "data": {"name": "gen"},
                    "transform": [{"filter": {"field": "grp", "equal": "Clostridiales vadinBB60 group Family"}}],
                    "title": {"text": "Clostridiales vadinBB60 group Family", "anchor": "start", "fontSize": 11.2, "fontWeight": "normal", "color": "black", "offset": 5},
                    "width": 9.5, "height": {"step": 9.9},
                    "encoding": {"y": {"field": "genus", "type": "nominal", "sort": null, "axis": null, "scale": {"paddingInner": 0.04, "paddingOuter": 0}}},
                    "layer": [
                      {"mark": {"type": "rect", "stroke": "#595959", "strokeWidth": 0.8}, "encoding": {"color": {"field": "k", "type": "nominal", "legend": null, "scale": {"domain": ["a01","a02","a03","a04","a05","a06","a07","a08","a09","a10","a11","a12","a13","a14","a15","a16","a17","a18","a19","a20","a21","a22","a23","a24","a25","a26","a27","a28","a29","a30","a31","a32","a33","a34","a35","a36","a37","a38","a39","a40","a41"], "range": ["#5BBD2E","#0B0B4A","#121260","#1A1A78","#3C42A0","#172E7C","#4A72BE","#1C4E78","#58B6D6","#2E4476","#7DA9D3","#236E6E","#6CC4A4","#3E5A80","#8ED0E0","#56796F","#B5E2D7","#9DA9BF","#B3BFD6","#E7F4F7","#C24DAE","#E07BC6","#943596","#F5258F","#D01560","#DA8FC9","#FF6035","#FF7300","#FFA000","#FFD7AF","#5B7B1E","#C6E8B6","#6B625F","#B2ABA4","#DAD7D1","#000000","#B6DC14","#217821","#FF1400","#7F0000","#FFFF00"]}}}},
                      {"mark": {"type": "text", "align": "left", "dx": 10, "fontSize": 10, "color": "black"}, "encoding": {"text": {"field": "genus"}}}
                    ]
                  },
                  {
                    "data": {"name": "gen"},
                    "transform": [{"filter": {"field": "grp", "equal": "Erysipelotrichaceae Family"}}],
                    "title": {"text": "Erysipelotrichaceae Family", "anchor": "start", "fontSize": 11.2, "fontWeight": "normal", "color": "black", "offset": 5},
                    "width": 9.5, "height": {"step": 9.9},
                    "encoding": {"y": {"field": "genus", "type": "nominal", "sort": null, "axis": null, "scale": {"paddingInner": 0.04, "paddingOuter": 0}}},
                    "layer": [
                      {"mark": {"type": "rect", "stroke": "#595959", "strokeWidth": 0.8}, "encoding": {"color": {"field": "k", "type": "nominal", "legend": null, "scale": {"domain": ["a01","a02","a03","a04","a05","a06","a07","a08","a09","a10","a11","a12","a13","a14","a15","a16","a17","a18","a19","a20","a21","a22","a23","a24","a25","a26","a27","a28","a29","a30","a31","a32","a33","a34","a35","a36","a37","a38","a39","a40","a41"], "range": ["#5BBD2E","#0B0B4A","#121260","#1A1A78","#3C42A0","#172E7C","#4A72BE","#1C4E78","#58B6D6","#2E4476","#7DA9D3","#236E6E","#6CC4A4","#3E5A80","#8ED0E0","#56796F","#B5E2D7","#9DA9BF","#B3BFD6","#E7F4F7","#C24DAE","#E07BC6","#943596","#F5258F","#D01560","#DA8FC9","#FF6035","#FF7300","#FFA000","#FFD7AF","#5B7B1E","#C6E8B6","#6B625F","#B2ABA4","#DAD7D1","#000000","#B6DC14","#217821","#FF1400","#7F0000","#FFFF00"]}}}},
                      {"mark": {"type": "text", "align": "left", "dx": 10, "fontSize": 10, "color": "black"}, "encoding": {"text": {"field": "genus"}}}
                    ]
                  },
                  {
                    "data": {"name": "gen"},
                    "transform": [{"filter": {"field": "grp", "equal": "Lachnospiraceae Family"}}],
                    "title": {"text": "Lachnospiraceae Family", "anchor": "start", "fontSize": 11.2, "fontWeight": "normal", "color": "black", "offset": 5},
                    "width": 9.5, "height": {"step": 9.9},
                    "encoding": {"y": {"field": "genus", "type": "nominal", "sort": null, "axis": null, "scale": {"paddingInner": 0.04, "paddingOuter": 0}}},
                    "layer": [
                      {"mark": {"type": "rect", "stroke": "#595959", "strokeWidth": 0.8}, "encoding": {"color": {"field": "k", "type": "nominal", "legend": null, "scale": {"domain": ["a01","a02","a03","a04","a05","a06","a07","a08","a09","a10","a11","a12","a13","a14","a15","a16","a17","a18","a19","a20","a21","a22","a23","a24","a25","a26","a27","a28","a29","a30","a31","a32","a33","a34","a35","a36","a37","a38","a39","a40","a41"], "range": ["#5BBD2E","#0B0B4A","#121260","#1A1A78","#3C42A0","#172E7C","#4A72BE","#1C4E78","#58B6D6","#2E4476","#7DA9D3","#236E6E","#6CC4A4","#3E5A80","#8ED0E0","#56796F","#B5E2D7","#9DA9BF","#B3BFD6","#E7F4F7","#C24DAE","#E07BC6","#943596","#F5258F","#D01560","#DA8FC9","#FF6035","#FF7300","#FFA000","#FFD7AF","#5B7B1E","#C6E8B6","#6B625F","#B2ABA4","#DAD7D1","#000000","#B6DC14","#217821","#FF1400","#7F0000","#FFFF00"]}}}},
                      {"mark": {"type": "text", "align": "left", "dx": 10, "fontSize": 10, "color": "black"}, "encoding": {"text": {"field": "genus"}}}
                    ]
                  }
                ]
              },
              {
                "data": {"name": "gen"},
                "transform": [{"filter": {"field": "grp", "equal": "Other Families"}}],
                "title": {"text": "Other Families", "anchor": "start", "fontSize": 11.2, "fontWeight": "normal", "color": "black", "offset": 5},
                "width": 9.5, "height": {"step": 9.9},
                "encoding": {"y": {"field": "genus", "type": "nominal", "sort": null, "axis": null, "scale": {"paddingInner": 0.04, "paddingOuter": 0}}},
                "layer": [
                  {"mark": {"type": "rect", "stroke": "#595959", "strokeWidth": 0.8}, "encoding": {"color": {"field": "k", "type": "nominal", "legend": null, "scale": {"domain": ["a01","a02","a03","a04","a05","a06","a07","a08","a09","a10","a11","a12","a13","a14","a15","a16","a17","a18","a19","a20","a21","a22","a23","a24","a25","a26","a27","a28","a29","a30","a31","a32","a33","a34","a35","a36","a37","a38","a39","a40","a41"], "range": ["#5BBD2E","#0B0B4A","#121260","#1A1A78","#3C42A0","#172E7C","#4A72BE","#1C4E78","#58B6D6","#2E4476","#7DA9D3","#236E6E","#6CC4A4","#3E5A80","#8ED0E0","#56796F","#B5E2D7","#9DA9BF","#B3BFD6","#E7F4F7","#C24DAE","#E07BC6","#943596","#F5258F","#D01560","#DA8FC9","#FF6035","#FF7300","#FFA000","#FFD7AF","#5B7B1E","#C6E8B6","#6B625F","#B2ABA4","#DAD7D1","#000000","#B6DC14","#217821","#FF1400","#7F0000","#FFFF00"]}}}},
                  {"mark": {"type": "text", "align": "left", "dx": 10, "fontSize": 10, "color": "black"}, "encoding": {"text": {"field": "genus"}}}
                ]
              }
            ]
          }
        ]
      }
    ]
  }
]
}
